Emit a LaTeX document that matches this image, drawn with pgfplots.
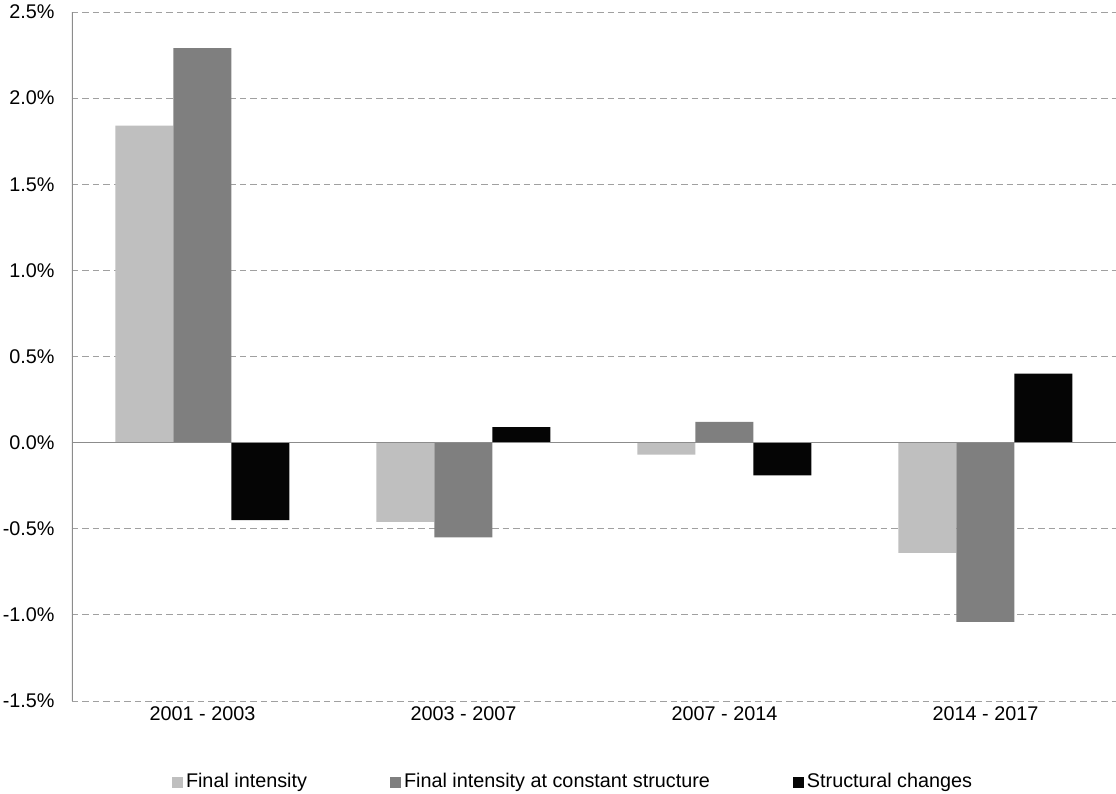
\documentclass[border=0pt]{standalone}
\usepackage{fontspec}
\setmainfont{Liberation Sans}
\usepackage{pgfplots}
\pgfplotsset{compat=1.18}
\definecolor{lightbar}{HTML}{BFBFBF}
\definecolor{darkbar}{HTML}{7F7F7F}
\definecolor{blackbar}{HTML}{050505}
\definecolor{gridgray}{HTML}{A0A0A0}
\definecolor{axisgray}{HTML}{8C8C8C}
\begin{document}
\begin{tikzpicture}
\useasboundingbox (-36pt,-46.5pt) rectangle (522pt,350.5pt);
\begin{axis}[
  at={(0,0)}, anchor=south west,
  scale only axis, width=522pt, height=344.5pt,
  ybar=0pt, bar width=29pt,
  xmin=-0.5, xmax=3.5, ymin=-1.5, ymax=2.5,
  xtick={0,1,2,3},
  xticklabels={2001 - 2003, 2003 - 2007, 2007 - 2014, 2014 - 2017},
  ytick={-1.5,-1,-0.5,0,0.5,1,1.5,2,2.5},
  yticklabels={-1.5\%,-1.0\%,-0.5\%,0.0\%,0.5\%,1.0\%,1.5\%,2.0\%,2.5\%},
  major tick length=0pt,
  ymajorgrids,
  major grid style={gridgray, dash pattern=on 3.25pt off 2pt, line width=0.5pt},
  axis line style={draw=none},
  tick label style={font=\fontsize{9.9}{12}\selectfont},
  yticklabel style={xshift=-5.2pt},
  xticklabel style={yshift=0.6pt},
  legend style={
    draw=none, fill=none, inner sep=0pt, outer sep=0pt,
    at={(0.0958,-0.1176)}, anchor=west,
    font=\fontsize{9.9}{12}\selectfont,
    nodes={inner xsep=1.5pt, inner ysep=1pt},
    /tikz/every even column/.append style={column sep=40pt},
  },
  legend columns=3,
  legend image code/.code={\fill[#1] (0pt,-2.75pt) rectangle (5.5pt,2.75pt);},
]
\addplot[fill=lightbar, draw=none] coordinates {(0,1.84) (1,-0.46) (2,-0.07) (3,-0.64)};
\addplot[fill=darkbar, draw=none] coordinates {(0,2.29) (1,-0.55) (2,0.12) (3,-1.04)};
\addplot[fill=blackbar, draw=none] coordinates {(0,-0.45) (1,0.09) (2,-0.19) (3,0.40)};
\legend{Final intensity, Final intensity at constant structure, Structural changes}
% left axis line and zero line
\draw[axisgray, line width=0.6pt] (axis cs:-0.5,-1.5) -- (axis cs:-0.5,2.5);
\draw[axisgray, line width=0.6pt] (axis cs:-0.5,0) -- (axis cs:3.5,0);
\end{axis}
\end{tikzpicture}
\end{document}
